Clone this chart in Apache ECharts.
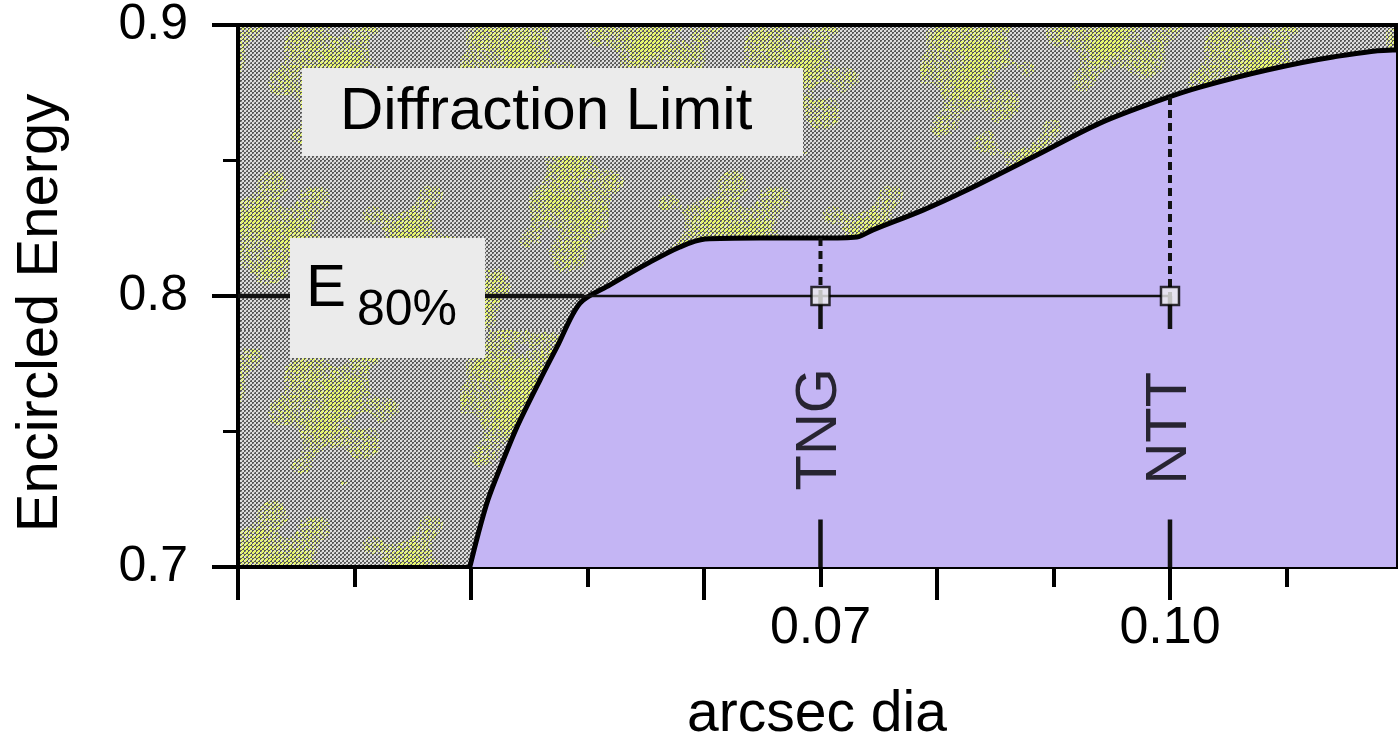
<!DOCTYPE html>
<html>
<head>
<meta charset="utf-8">
<script src="https://cdn.jsdelivr.net/npm/echarts@6/dist/echarts.min.js"></script>
<style>
html,body{margin:0;padding:0;background:#fff;}
#chart{width:1398px;height:740px;}
</style>
</head>
<body>
<div id="chart"></div>
<script>
// ---- data ----
const arcsec = [0.0399, 0.04059, 0.04145, 0.04249, 0.04395, 0.04592, 0.04738, 0.04936, 0.05193, 0.05536, 0.05794, 0.06009, 0.06481, 0.06996, 0.07313, 0.07451, 0.07880, 0.08258, 0.08824, 0.09399, 0.09914, 0.10258, 0.10833, 0.11399, 0.11914, 0.1194];
const energy = [0.7000, 0.7118, 0.7247, 0.7365, 0.7517, 0.7690, 0.7812, 0.7974, 0.8041, 0.8125, 0.8181, 0.8210, 0.8214, 0.8214, 0.8218, 0.8244, 0.8317, 0.8391, 0.8513, 0.8638, 0.8723, 0.8771, 0.8834, 0.8882, 0.8908, 0.8908];
const e80Level = 0.8;
const e80Start = 0.02;
const e80Crossing = 0.0497;
const telescopes = ['TNG', 'NTT'];
const telescopeArcsec = [0.07, 0.10];
const telescopeCurveEnergy = [0.8214, 0.8734];
const telescopeLabelEnergy = [0.7508, 0.7512];
const labelGapEnergy = [0.7878, 0.7175]; // upper / lower end of the gap around the labels
const xLabelValues = [0.07, 0.10];
const xLabelTexts = ['0.07', '0.10'];
const xMinorTicks = [0.03, 0.05, 0.07, 0.09, 0.11];
const xMajorTicks = [0.02, 0.04, 0.06, 0.08, 0.10];
const yTickLabels = ['0.7', '0.8', '0.9'];
const annotationTexts = ['Diffraction Limit', 'E', '80%'];

// ---- styling helpers (decorative halftone texture, deterministic) ----
const FONT = '"Liberation Sans", Arial, Helvetica, sans-serif';
function hash(x, y) {
  let h = (x * 374761393 + y * 668265263) | 0;
  h = Math.imul(h ^ (h >>> 13), 1274126177);
  h = h ^ (h >>> 16);
  return (h >>> 0) / 4294967295;
}
function halftoneTile() {
  const W = 460, H = 330;
  const c = document.createElement('canvas');
  c.width = W; c.height = H;
  const g = c.getContext('2d');
  const img = g.createImageData(W, H);
  const blobs = [[50, 60, 45, 70], [190, 40, 55, 40], [330, 70, 50, 60], [110, 200, 40, 65], [270, 230, 60, 45], [410, 250, 38, 55], [20, 300, 30, 30]];
  for (let y = 0; y < H; y++) {
    for (let x = 0; x < W; x++) {
      const qx = x % 4, qy = y % 4;
      const m = qx + qy;
      let r, gg, b;
      const dark = (qx < 2 && qy < 2 && m < 2) || (qx >= 2 && qy >= 2 && m > 4);
      const mid = !dark && ((qx < 2) === (qy < 2));
      if (dark) { r = gg = b = 88; }
      else if (mid) { r = gg = b = 150; }
      else { r = gg = b = 222; }
      if (!dark) {
        for (const [cx, cy, rx, ry] of blobs) {
          const dx = (x - cx) / rx, dy = (y - cy) / ry;
          const wob = 0.25 * Math.sin(x * 0.11 + y * 0.07) + 0.2 * Math.cos(x * 0.05 - y * 0.13);
          const d = Math.sqrt(dx * dx + dy * dy) + wob;
          if (d < 1 && hash(x, y) > 0.12 + 0.55 * d) { r = 230; gg = 246; b = 110; break; }
        }
      }
      const k = (y * W + x) * 4;
      img.data[k] = r; img.data[k + 1] = gg; img.data[k + 2] = b; img.data[k + 3] = 255;
    }
  }
  g.putImageData(img, 0, 0);
  return c;
}

const chart = echarts.init(document.getElementById('chart'), null, {renderer: 'canvas'});

const xMin = 0.02, xMax = 0.1194;
const tickStyle = {color: '#000', width: 4};

const series = [];
// lavender area under the encircled-energy curve
series.push({
  type: 'line', z: 3,
  data: arcsec.map((x, i) => [x, energy[i]]),
  smooth: 0.3, symbol: 'none',
  lineStyle: {color: '#000', width: 5},
  areaStyle: {color: '#c4b5f4', opacity: 1, origin: 'start'}
});
// E80% horizontal line (thick part over the gray, thin part over the lavender)
series.push({
  type: 'line', z: 4, symbol: 'none',
  data: [[e80Start, e80Level], [e80Crossing, e80Level]],
  lineStyle: {color: '#111', width: 4.5}
});
series.push({
  type: 'line', z: 4, symbol: 'none',
  data: [[e80Crossing, e80Level], [telescopeArcsec[1], e80Level]],
  lineStyle: {color: '#111', width: 2.5}
});
// verticals for each telescope
telescopes.forEach((t, i) => {
  const x = telescopeArcsec[i];
  series.push({
    type: 'line', z: 4, symbol: 'none',
    data: [[x, telescopeCurveEnergy[i]], [x, e80Level]],
    lineStyle: {color: '#111', width: 4, type: [8, 5]}
  });
  series.push({
    type: 'line', z: 4, symbol: 'none',
    data: [[x, e80Level], [x, labelGapEnergy[0]]],
    lineStyle: {color: '#111', width: 4.5}
  });
  series.push({
    type: 'line', z: 4, symbol: 'none',
    data: [[x, labelGapEnergy[1]], [x, 0.7]],
    lineStyle: {color: '#111', width: 4.5}
  });
});
// square markers
series.push({
  type: 'scatter', z: 6, symbol: 'rect', symbolSize: 18,
  data: telescopeArcsec.map(x => [x, e80Level]),
  itemStyle: {color: '#eeeeee', borderColor: '#000', borderWidth: 2.5}
});
// rotated telescope labels
series.push({
  type: 'scatter', z: 6, symbolSize: 0,
  data: telescopes.map((t, i) => [telescopeArcsec[i], telescopeLabelEnergy[i], t]),
  label: {
    show: true, position: 'inside', rotate: 90,
    formatter: p => p.data[2],
    fontFamily: FONT, fontSize: 58, color: '#000'
  }
});

const option = {
  animation: false,
  backgroundColor: '#ffffff',
  grid: {
    left: 238, right: 2, top: 25, bottom: 173,
    outerBoundsMode: 'none',
    containLabel: false,
    show: true,
    backgroundColor: {image: halftoneTile(), repeat: 'repeat'},
    borderColor: '#000', borderWidth: 4
  },
  xAxis: [
    {
      type: 'value', min: xMin, max: xMax, position: 'bottom',
      axisLine: {show: true, lineStyle: {color: '#000', width: 4}},
      axisTick: {show: true, length: 20, lineStyle: tickStyle, customValues: xMinorTicks},
      axisLabel: {
        show: true, customValues: xLabelValues,
        formatter: v => {
          const k = xLabelValues.findIndex(u => Math.abs(u - v) < 1e-6);
          return k >= 0 ? xLabelTexts[k] : '';
        },
        fontFamily: FONT, fontSize: 52, color: '#000', margin: 36
      },
      splitLine: {show: false},
      name: 'arcsec dia', nameLocation: 'middle', nameGap: 120,
      nameTextStyle: {fontFamily: FONT, fontSize: 57, color: '#000'}
    },
    {
      type: 'value', min: xMin, max: xMax, position: 'bottom',
      axisLine: {show: false},
      axisTick: {show: true, length: 33, lineStyle: tickStyle, customValues: xMajorTicks},
      axisLabel: {show: false},
      splitLine: {show: false}
    }
  ],
  yAxis: {
    type: 'value', min: 0.7, max: 0.9, interval: 0.1,
    axisLine: {show: true, lineStyle: {color: '#000', width: 4}},
    axisTick: {show: true, length: 26, lineStyle: tickStyle},
    minorTick: {show: true, splitNumber: 2, length: 15, lineStyle: {color: '#000', width: 3}},
    axisLabel: {
      formatter: v => yTickLabels[Math.round((v - 0.7) * 10)] || '',
      fontFamily: FONT, fontSize: 50, color: '#000', margin: 50
    },
    splitLine: {show: false},
    name: 'Encircled Energy', nameLocation: 'middle', nameGap: 168, nameRotate: 90,
    nameTextStyle: {fontFamily: FONT, fontSize: 58, color: '#000', padding: [0, 34, 0, 0]}
  },
  graphic: [
    {type: 'rect', z: 100, shape: {x: 302, y: 68, width: 501, height: 88}, style: {fill: '#ebebeb'}},
    {type: 'text', z: 101, style: {x: 340, y: 112, text: annotationTexts[0], font: '60px ' + FONT, fill: '#000', verticalAlign: 'middle'}},
    {type: 'rect', z: 100, shape: {x: 290, y: 238, width: 195, height: 120}, style: {fill: '#ebebeb'}},
    {type: 'text', z: 101, style: {x: 306, y: 289, text: annotationTexts[1], font: '60px ' + FONT, fill: '#000', verticalAlign: 'middle'}},
    {type: 'text', z: 101, style: {x: 357, y: 311, text: annotationTexts[2], font: '50px ' + FONT, fill: '#000', verticalAlign: 'middle'}}
  ],
  series: series
};
chart.setOption(option);
</script>
</body>
</html>
